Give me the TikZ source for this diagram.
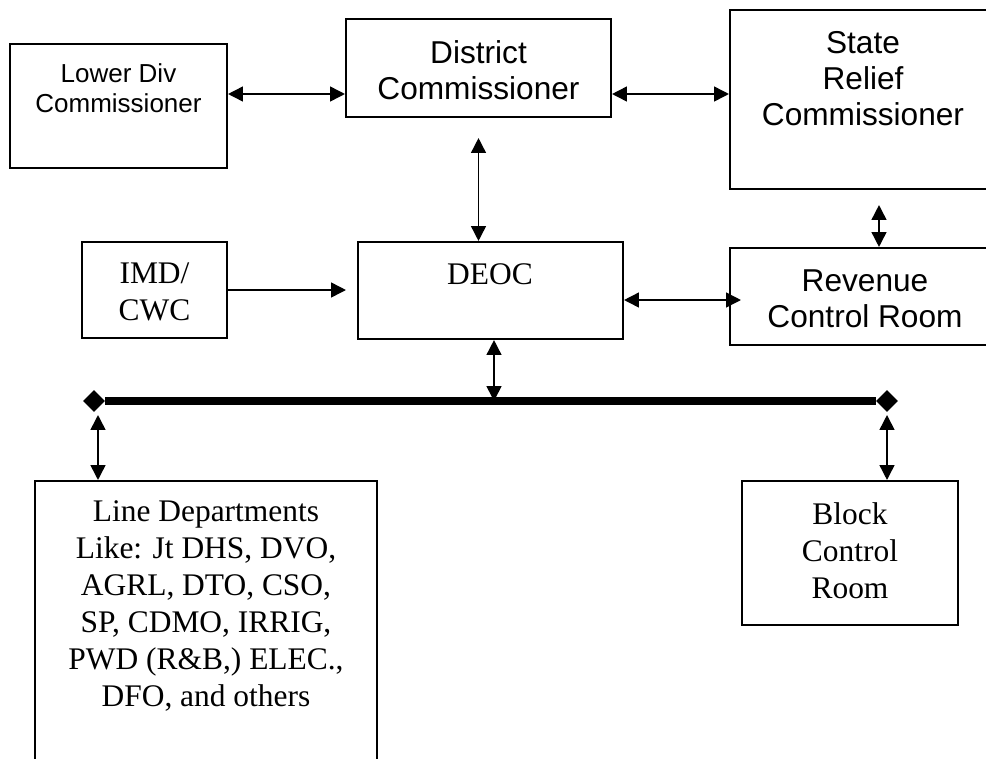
\documentclass[tikz,border=0pt]{standalone}
\usepackage{fontspec}
\setmainfont{Liberation Serif}
\newfontfamily\arialfont{Liberation Sans}
\usepackage{tikz}
\usetikzlibrary{arrows.meta}
\usetikzlibrary{positioning}
\usetikzlibrary{shapes.geometric}

\tikzset{
	box/.style={draw, rectangle, line width=1.2pt, inner sep=0pt},
	txt/.style={align=center, inner sep=0pt, font=\fontsize{17.9}{21}\selectfont},
	atxt/.style={align=center, inner sep=0pt, font=\arialfont\fontsize{18}{20.5}\selectfont},
	stxt/.style={align=center, inner sep=0pt, font=\arialfont\fontsize{14.8}{17}\selectfont},
	biarrow/.style={line width=0.9pt, {Triangle[length=8.5pt,width=8.5pt]}-{Triangle[length=8.5pt,width=8.5pt]}},
	onearrow/.style={line width=0.9pt, -{Triangle[length=8.5pt,width=8.5pt]}},
	busend/.style={diamond, fill, inner sep=0pt, minimum size=0.44cm}
}

\begin{document}
\begin{tikzpicture}[x=0.02cm,y=-0.02cm]
		\clip (0,0) rectangle (986,758);
		% boxes
		\node[box, minimum width=4.34cm, minimum height=2.48cm] (ldc) at (118.5,106) {};
		\node[box, minimum width=5.30cm, minimum height=1.96cm] (dc) at (478.5,68) {};
		\node[box, minimum width=5.32cm, minimum height=3.58cm] (src) at (863,99.5) {};
		\node[box, minimum width=2.90cm, minimum height=1.92cm] (imd) at (154.5,290) {};
		\node[box, minimum width=5.30cm, minimum height=1.94cm] (deoc) at (490.5,290.5) {};
		\node[box, minimum width=5.32cm, minimum height=1.94cm] (rev) at (863,296.5) {};
		\node[box, minimum width=6.84cm, minimum height=6.18cm] (ld) at (206,635.5) {};
		\node[box, minimum width=4.32cm, minimum height=2.88cm] (bcr) at (850,553) {};
		
		% texts
		\node[stxt] (ldct) at (118.5,88) {Lower Div\\Commissioner};
		\node[atxt] (dct) at (478.5,70) {District\\Commissioner};
		\node[atxt] (srct) at (863,79) {State\\Relief\\Commissioner};
		\node[atxt] (revt) at (865,299) {Revenue\\Control Room};
		\node[txt] (imdt) at (154.5,292) {IMD/\\CWC};
		\node[txt] (deoct) at (490,274) {DEOC};
		\node[txt] (ldt) at (206,606) {Line Departments\\Like: Jt DHS, DVO,\\AGRL, DTO, CSO,\\SP, CDMO, IRRIG,\\PWD (R\&B,) ELEC.,\\DFO, and others};
		\node[txt] (bcrt) at (850,551) {Block\\Control\\Room};
		
		% bus
		\node[busend] (busL) at (94,401) {};
		\node[busend] (busR) at (887,401) {};
		\draw[line width=4pt] (busL) -- (busR);
		
		% links
		\draw[biarrow] (ldc.east |- 0,94) -- (dc.west |- 0,94);
		\draw[biarrow] (dc.east |- 0,94) -- (src.west |- 0,94);
		\draw[biarrow] ([yshift=-0.4cm]dc.south) -- (dc.south |- deoc.north);
		\draw[biarrow] ([xshift=0.32cm,yshift=-0.3cm]src.south) -- ([xshift=0.32cm]rev.north);
		\draw[onearrow] (imd.east) -- ([xshift=-0.22cm]deoc.west |- imd.east);
		\draw[biarrow] (deoc.east |- 0,300) -- ([xshift=0.24cm]rev.west |- 0,300);
		\draw[biarrow] ([xshift=0.07cm]deoc.south) -- ([xshift=0.07cm]deoc.south |- busL.center);
		\draw[biarrow] ([xshift=0.08cm,yshift=-0.28cm]busL.center) -- ([xshift=0.08cm]busL.center |- ld.north);
		\draw[biarrow] ([yshift=-0.28cm]busR.center) -- (busR.center |- bcr.north);
\end{tikzpicture}
\end{document}
